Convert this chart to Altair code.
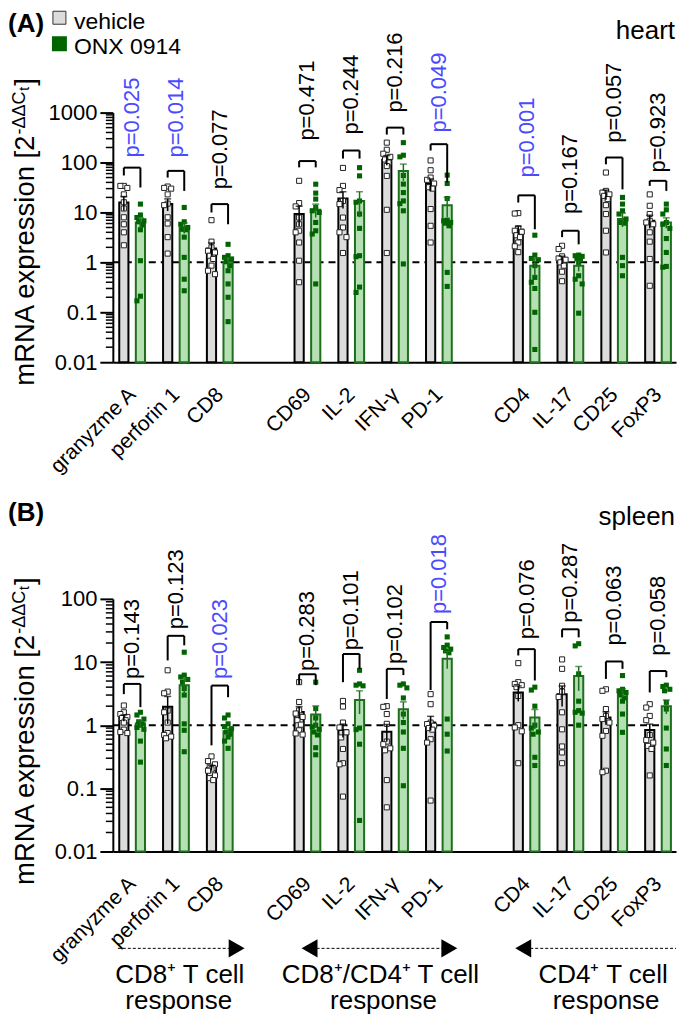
import json
import numpy as np
import pandas as pd
import altair as alt

# ---------------- data ----------------
genes = ["granyzme A", "perforin 1", "CD8", "CD69", "IL-2", "IFN-γ", "PD-1",
         "CD4", "IL-17", "CD25", "FoxP3"]
slots = [0, 1, 2, 4, 5, 6, 7, 9, 10, 11, 12]

# heart
heart_veh_points = [
    [34, 34, 31, 23, 16, 12, 8, 5.8, 4, 2.2],
    [33, 31, 30, 23, 15, 14, 8, 6, 3.2, 1.5],
    [7.0, 2.6, 2.0, 1.7, 1.58, 1.36, 1.17, 0.86, 0.68, 0.58],
    [43, 15.4, 13.2, 7.9, 5.8, 4.3, 4, 2.5, 1.08, 0.4],
    [78, 34, 28, 17, 14.7, 7.9, 5, 4, 3.2, 1.54],
    [250, 180, 150, 130, 115, 100, 85, 54, 11.3, 1.54],
    [110, 70, 50, 45, 38, 32, 30, 11.7, 5.4, 2.5],
    [9.7, 9.5, 4.8, 4.3, 4.1, 3.5, 3.2, 2.5, 2.1, 1.6],
    [2.15, 1.85, 1.32, 1.2, 1.13, 1.0, 0.86, 0.65, 0.42],
    [63, 27, 25, 23, 21.5, 18.5, 14, 9.3, 4.3, 1.58],
    [23, 13.6, 9.3, 6.8, 6.3, 5.8, 4, 2.6, 1.17, 0.34],
]
heart_onx_points = [
    [14.7, 8.9, 7.9, 6.8, 6.5, 5.6, 4.5, 1.08, 0.21, 0.17],
    [12.6, 6.5, 5.8, 5.0, 4.6, 4.5, 3.2, 1.26, 0.46, 0.27],
    [2.3, 1.36, 1.26, 1.17, 1.03, 0.86, 0.68, 0.37, 0.2, 0.065],
    [36.8, 24.4, 18.5, 12.6, 10.8, 10, 6.3, 4.3, 3.7, 0.37],
    [79, 54, 17, 16, 9.3, 4.8, 1.36, 1.3, 0.32, 0.25],
    [250, 140, 130, 55, 37, 25, 17, 15, 10.8, 0.93],
    [56, 38, 19, 7, 6.8, 6.3, 6.1, 5.4, 0.63, 0.33],
    [3.5, 1.4, 1.2, 1.13, 0.86, 0.5, 0.4, 0.3, 0.1, 0.018],
    [1.4, 1.36, 1.32, 1.2, 1.13, 1.0, 0.54, 0.46, 0.37, 0.096],
    [20, 14.7, 10.8, 9.3, 7.4, 6.3, 6.1, 1.26, 0.86, 0.54],
    [14.7, 11.3, 9.3, 6.3, 5.8, 4.8, 3, 1.58, 0.83, 0.8],
]
heart_veh_mean = [15.8, 14.7, 1.9, 9.3, 19, 113, 37, 4.5, 1.13, 23, 6.8]
heart_veh_sem = [5, 4, 0.55, 4, 7, 25, 10, 0.8, 0.2, 5, 2]
heart_onx_mean = [6.3, 5.0, 1.03, 11.3, 17, 68, 14, 0.86, 0.86, 7.4, 6.3]
heart_onx_sem = [1.5, 1.2, 0.2, 3.4, 9, 25, 6, 0.35, 0.2, 2.3, 1.5]
heart_p = ["0.025", "0.014", "0.077", "0.471", "0.244", "0.216", "0.049",
           "0.001", "0.167", "0.057", "0.923"]
heart_bracket_top = [79, 68, 14.7, 107, 174, 500, 233, 22, 4.3, 126, 43]
heart_bracket_left = [55, 50, 10, 80, 120, 363, 174, 15.8, 3.2, 92, 34]
heart_bracket_right = [31.6, 27, 5.8, 80, 120, 363, 40, 4.6, 2.3, 29, 27]
heart_p_pos = [126, 126, 29, 275, 363, 1000, 400, 50, 9.3, 250, 63]

# spleen
spleen_veh_points = [
    [2.05, 1.6, 1.5, 1.35, 1.3, 1.2, 1.1, 0.85, 0.78, 0.75],
    [7.4, 3.4, 3.2, 1.7, 1.6, 1.1, 0.75, 0.7, 0.66, 0.62],
    [0.32, 0.27, 0.24, 0.22, 0.21, 0.2, 0.19, 0.16, 0.145, 0.135],
    [4.8, 2.33, 1.72, 1.53, 1.35, 1.2, 1.02, 0.83, 0.74, 0.71],
    [2.42, 1.97, 1.1, 0.92, 0.77, 0.64, 0.42, 0.25, 0.24, 0.074],
    [2.0, 1.95, 1.5, 1.05, 0.55, 0.5, 0.43, 0.4, 0.135, 0.05],
    [3.1, 2.15, 1.1, 1.04, 0.98, 0.9, 0.85, 0.6, 0.53, 0.064],
    [9.6, 4.8, 4.5, 4.3, 4.0, 2.9, 1.0, 0.92, 0.8, 0.25],
    [11, 7.8, 4.2, 3.4, 2.8, 1.6, 0.86, 0.46, 0.37, 0.25],
    [3.7, 3.5, 1.8, 1.4, 1.25, 1.1, 0.81, 0.68, 0.19, 0.18],
    [2.15, 1.9, 1.4, 1.2, 0.7, 0.58, 0.53, 0.47, 0.42, 0.16],
]
spleen_onx_points = [
    [1.6, 1.45, 1.25, 1.13, 1.05, 1.0, 0.92, 0.86, 0.56, 0.26],
    [14.3, 6.2, 5.8, 5.3, 4.8, 3.8, 3.0, 1.05, 0.83, 0.38],
    [1.45, 1.3, 1.05, 0.95, 0.88, 0.78, 0.72, 0.65, 0.56, 0.43],
    [4.8, 1.83, 1.3, 1.0, 0.94, 0.86, 0.78, 0.7, 0.44, 0.34],
    [7.4, 4.5, 4.3, 4.2, 0.9, 0.85, 0.5, 0.031],
    [4.5, 4.3, 3.9, 2.7, 1.5, 1.1, 0.78, 0.43, 0.11],
    [25, 18.5, 17, 16, 15, 14, 1.25, 0.72, 0.39],
    [4.0, 3.6, 2.0, 1.0, 0.9, 0.78, 0.72, 0.31, 0.23],
    [19.5, 18, 6.5, 2.4, 1.7, 1.6, 1.55, 1.0],
    [6.1, 3.7, 3.5, 3.3, 3.0, 2.7, 2.4, 1.5, 0.77],
    [4.3, 4.1, 3.7, 3.5, 2.3, 1.8, 0.9, 0.42, 0.23],
]
spleen_veh_mean = [1.3, 1.95, 0.21, 1.62, 0.84, 0.785, 1.1, 3.28, 3.08, 1.32, 0.84]
spleen_veh_sem = [0.15, 0.9, 0.02, 0.35, 0.2, 0.24, 0.28, 0.9, 1.1, 0.3, 0.2]
spleen_onx_mean = [1.06, 4.3, 0.8, 1.47, 2.5, 1.79, 11.3, 1.32, 6.0, 3.28, 2.0]
spleen_onx_sem = [0.12, 1.2, 0.1, 0.55, 1.0, 0.55, 3.5, 0.45, 2.5, 0.5, 0.5]
spleen_p = ["0.143", "0.123", "0.023", "0.283", "0.101", "0.102", "0.018",
            "0.076", "0.287", "0.063", "0.058"]
spleen_bracket_top = [4.5, 26, 4.24, 6.4, 13.4, 7.8, 43, 16, 33, 10.2, 7.2]
spleen_bracket_left = [3.1, 10.6, 0.48, 4.4, 4.8, 2.6, 3.6, 12.7, 24.6, 5.4, 3.3]
spleen_bracket_right = [1.93, 18.4, 2.77, 4.3, 7.8, 6.2, 33, 5.1, 24.6, 7.8, 5.75]
spleen_p_pos = [5.4, 33, 5.4, 7.2, 15.3, 9.3, 57.6, 23, 42, 18.2, 12.6]

heart_majors = [0.01, 0.1, 1, 10, 100, 1000]
spleen_majors = [0.01, 0.1, 1, 10, 100]

group_lines = ["CD8⁺ T cell", "CD8⁺/CD4⁺ T cell", "CD4⁺ T cell"]

# ---------------- style / layout ----------------
FONT = "Liberation Sans"
GRAY = "#dcdcdc"
LGREEN = "#b4e0b4"
DGREEN = "#1e6e1e"
PTGREEN = "#006400"
BLUE = "#4a4aff"

W = 564
XDOM = [-0.44, 12.41]
PXU = W / (XDOM[1] - XDOM[0])
HALF = 8.3 / PXU
BARW = 4.6 / PXU

label_arr = [""] * 13
for g, s in zip(genes, slots):
    label_arr[s] = g
LABEL_EXPR = json.dumps(label_arr, ensure_ascii=False) + "[datum.value]"


def spread_offsets(vals, ppd):
    order = np.argsort(-np.log10(vals))
    offs = np.zeros(len(vals))
    pattern = [0.0, -3.5, 3.5, -1.75, 1.75]
    k = 0
    prev = None
    for idx in order:
        yy = np.log10(vals[idx]) * ppd
        if prev is not None and abs(prev - yy) < 5.5:
            k += 1
        else:
            k = 0
        offs[idx] = pattern[k % len(pattern)]
        prev = yy
    return offs


def txt(s, x, y, size, align="left", baseline="alphabetic", angle=0, bold=False, color="black"):
    kw = dict(fontSize=size, align=align, baseline=baseline, font=FONT, color=color)
    if angle:
        kw["angle"] = angle
    if bold:
        kw["fontWeight"] = "bold"
    return alt.Chart(pd.DataFrame({"t": [s]})).mark_text(**kw).encode(
        text="t:N", x=alt.value(x), y=alt.value(y))


def build_panel(veh_pts, onx_pts, veh_mean, veh_sem, onx_mean, onx_sem, pvals,
                br_top, br_left, br_right, p_pos, ydom, H, majors):
    ppd = H / (np.log10(ydom[1]) - np.log10(ydom[0]))
    yscale = alt.Scale(type="log", domain=ydom, nice=False)
    xscale = alt.Scale(domain=XDOM, nice=False, zero=False)
    yaxis = alt.Axis(values=majors, format="~g", title=None, grid=False,
                     labelFontSize=22, labelFont=FONT, labelColor="black",
                     tickSize=13, tickWidth=2, tickColor="black",
                     domainWidth=2, domainColor="black", labelPadding=3)
    xaxis = alt.Axis(values=slots, labelExpr=LABEL_EXPR, title=None, grid=False,
                     labelAngle=-45, labelAlign="right", labelBaseline="middle",
                     labelFontSize=21, labelFont=FONT, labelColor="black",
                     ticks=False, tickSize=0, labelPadding=29, labelOffset=0,
                     domainWidth=2, domainColor="black", labelOverlap=False)

    def X(f):
        return alt.X(f, type="quantitative", scale=xscale, axis=xaxis)

    def Y(f):
        return alt.Y(f, type="quantitative", scale=yscale, axis=yaxis)

    lo_lim = ydom[0] * 1.01
    bars = pd.DataFrame({
        "xv": [s - HALF for s in slots],
        "xo": [s + HALF for s in slots],
        "xv1": [s - HALF - BARW for s in slots],
        "xv2": [s - HALF + BARW for s in slots],
        "xo1": [s + HALF - BARW for s in slots],
        "xo2": [s + HALF + BARW for s in slots],
        "xc": slots,
        "base": [ydom[0]] * len(slots),
        "mv": veh_mean,
        "mo": onx_mean,
        "hv": [m + e for m, e in zip(veh_mean, veh_sem)],
        "lv": [max(m - e, lo_lim) for m, e in zip(veh_mean, veh_sem)],
        "ho": [m + e for m, e in zip(onx_mean, onx_sem)],
        "lo": [max(m - e, lo_lim) for m, e in zip(onx_mean, onx_sem)],
        "bt": br_top, "bl": br_left, "br": br_right, "pp": p_pos,
        "ptxt": ["p=" + p for p in pvals],
        "pcol": [BLUE if float(p) < 0.05 else "black" for p in pvals],
    })

    def pts_df(lists, side):
        rows = []
        for i, vals in enumerate(lists):
            arr = np.array(vals, float)
            offs = spread_offsets(arr, ppd)
            for v, o in zip(arr, offs):
                rows.append({"x": slots[i] + side * HALF + o / PXU, "v": v})
        return pd.DataFrame(rows)

    pv = pts_df(veh_pts, -1)
    po = pts_df(onx_pts, 1)

    minor = []
    d0, d1 = int(round(np.log10(ydom[0]))), int(round(np.log10(ydom[1])))
    for d in range(d0, d1):
        for k in range(2, 10):
            minor.append(k * 10.0 ** d)
    minor_df = pd.DataFrame({"m": minor})

    base = alt.Chart(bars)
    layers = [
        alt.Chart(pd.DataFrame({"v": [1]})).mark_rule(
            strokeDash=[7, 5], strokeWidth=2, color="black").encode(
            y=Y("v"), x=alt.value(0), x2=alt.value(W)),
        alt.Chart(minor_df).mark_rule(strokeWidth=1.5, color="black").encode(
            y=Y("m"), x=alt.value(-7), x2=alt.value(0)),
        base.mark_rect(fill=GRAY, stroke="black", strokeWidth=2, opacity=1).encode(
            x=X("xv1"), x2="xv2", y=Y("mv"), y2="base"),
        base.mark_rect(fill=LGREEN, stroke=DGREEN, strokeWidth=2, opacity=1).encode(
            x=X("xo1"), x2="xo2", y=Y("mo"), y2="base"),
        alt.Chart(pv).mark_square(size=26, fill="white", stroke="#222222",
                                  strokeWidth=1, opacity=1).encode(x=X("x"), y=Y("v")),
        alt.Chart(po).mark_square(size=26, color=PTGREEN, opacity=1).encode(
            x=X("x"), y=Y("v")),
        base.mark_rule(color="black", strokeWidth=1.5).encode(
            x=X("xv"), y=Y("lv"), y2="hv"),
        base.mark_tick(orient="horizontal", size=7, thickness=1.5, color="black").encode(
            x=X("xv"), y=Y("hv")),
        base.mark_rule(color=DGREEN, strokeWidth=1.5).encode(
            x=X("xo"), y=Y("lo"), y2="ho"),
        base.mark_tick(orient="horizontal", size=7, thickness=1.5, color=DGREEN).encode(
            x=X("xo"), y=Y("ho")),
        base.mark_rule(color="black", strokeWidth=2).encode(
            x=X("xv"), x2="xo", y=Y("bt")),
        base.mark_rule(color="black", strokeWidth=2).encode(
            x=X("xv"), y=Y("bt"), y2="bl"),
        base.mark_rule(color="black", strokeWidth=2).encode(
            x=X("xo"), y=Y("bt"), y2="br"),
        base.mark_text(angle=270, align="left", baseline="middle", fontSize=22,
                       font=FONT).encode(
            x=X("xc"), y=Y("pp"), text="ptxt:N", color=alt.Color("pcol:N", scale=None)),
    ]
    return layers


def ytitle(end_y):
    return [
        txt("mRNA expression [2", -79, end_y, 27.5, align="right", angle=270),
        txt("-ΔΔC", -88, end_y - 1, 18, align="left", angle=270),
        txt("t", -84, end_y - 45, 14, align="left", angle=270),
        txt("]", -79, end_y - 50, 27.5, align="left", angle=270),
    ]


HA, HB = 250, 253

layers_a = build_panel(heart_veh_points, heart_onx_points, heart_veh_mean, heart_veh_sem,
                       heart_onx_mean, heart_onx_sem, heart_p, heart_bracket_top,
                       heart_bracket_left, heart_bracket_right, heart_p_pos,
                       [0.01, 1000], HA, heart_majors)
layers_a += ytitle(23)
layers_a += [
    txt("(A)", -105, -102, 26, baseline="top", bold=True),
    alt.Chart(pd.DataFrame({"a": [0]})).mark_square(
        size=169, fill=GRAY, stroke="#333333", strokeWidth=1, opacity=1).encode(
        x=alt.value(-53.5), y=alt.value(-95)),
    alt.Chart(pd.DataFrame({"a": [0]})).mark_square(
        size=169, fill=PTGREEN, stroke=PTGREEN, opacity=1).encode(
        x=alt.value(-53.5), y=alt.value(-69)),
    txt("vehicle", -39, -102, 23, baseline="top"),
    txt("ONX 0914", -39, -77, 23, baseline="top"),
    txt("heart", 563, -74, 26, align="right"),
]
panel_a = alt.layer(*layers_a).properties(width=W, height=HA)

layers_b = build_panel(spleen_veh_points, spleen_onx_points, spleen_veh_mean, spleen_veh_sem,
                       spleen_onx_mean, spleen_onx_sem, spleen_p, spleen_bracket_top,
                       spleen_bracket_left, spleen_bracket_right, spleen_p_pos,
                       [0.01, 100], HB, spleen_majors)
layers_b += ytitle(36)
AY = 350
TRI = 340
layers_b += [
    txt("(B)", -105, -78, 26, bold=True),
    txt("spleen", 563, -74, 26, align="right"),
    # arrows
    alt.Chart(pd.DataFrame({"a": [0]})).mark_rule(strokeDash=[3, 2], strokeWidth=1, color="black").encode(
        x=alt.value(5), x2=alt.value(118), y=alt.value(AY)),
    alt.Chart(pd.DataFrame({"a": [0]})).mark_point(shape="triangle-right", size=TRI, filled=True,
                                                   color="black", opacity=1).encode(
        x=alt.value(124), y=alt.value(AY)),
    alt.Chart(pd.DataFrame({"a": [0]})).mark_point(shape="triangle-left", size=TRI, filled=True,
                                                   color="black", opacity=1).encode(
        x=alt.value(197), y=alt.value(AY)),
    alt.Chart(pd.DataFrame({"a": [0]})).mark_rule(strokeDash=[3, 2], strokeWidth=1, color="black").encode(
        x=alt.value(204), x2=alt.value(331), y=alt.value(AY)),
    alt.Chart(pd.DataFrame({"a": [0]})).mark_point(shape="triangle-right", size=TRI, filled=True,
                                                   color="black", opacity=1).encode(
        x=alt.value(337), y=alt.value(AY)),
    alt.Chart(pd.DataFrame({"a": [0]})).mark_point(shape="triangle-left", size=TRI, filled=True,
                                                   color="black", opacity=1).encode(
        x=alt.value(411), y=alt.value(AY)),
    alt.Chart(pd.DataFrame({"a": [0]})).mark_rule(strokeDash=[3, 2], strokeWidth=1, color="black").encode(
        x=alt.value(418), x2=alt.value(564), y=alt.value(AY)),
    txt(group_lines[0], 67, 385, 26, align="center"),
    txt(group_lines[1], 268, 385, 26, align="center"),
    txt(group_lines[2], 491, 385, 26, align="center"),
    txt("response", 66, 411, 26, align="center"),
    txt("response", 271, 411, 26, align="center"),
    txt("response", 494, 411, 26, align="center"),
]
panel_b = alt.layer(*layers_b).properties(width=W, height=HB)

chart = alt.vconcat(panel_a, panel_b, spacing=237, bounds="flush", padding=0).configure(
    font=FONT).configure_view(strokeWidth=0, stroke="transparent")

chart.save("out.html", embed_options={"renderer": "svg", "actions": False})
